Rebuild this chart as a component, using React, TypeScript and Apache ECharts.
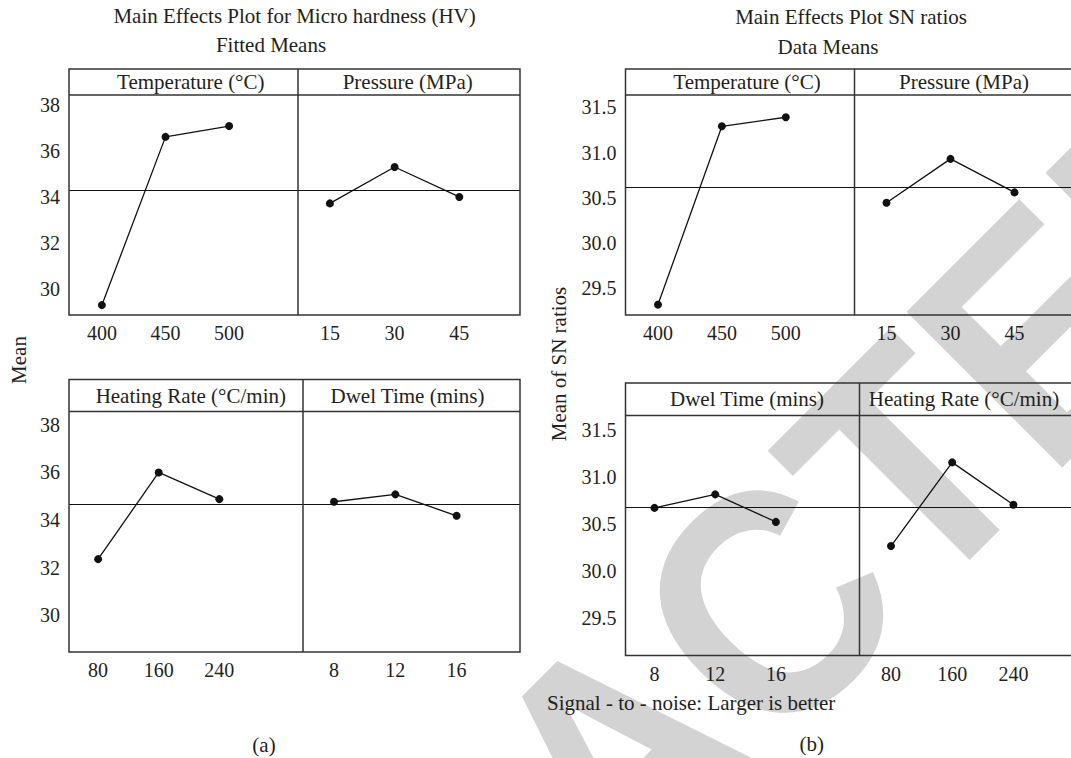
import React, { useEffect, useRef } from "react";
import * as echarts from "echarts";

// ---------------- Data ----------------
const titleA = "Main Effects Plot for Micro hardness (HV)";
const subtitleA = "Fitted Means";
const titleB = "Main Effects Plot SN ratios";
const subtitleB = "Data Means";
const yNameA = "Mean";
const yNameB = "Mean of SN ratios";
const noteB = "Signal - to - noise: Larger is better";
const captionA = "(a)";
const captionB = "(b)";
const watermark = "RETRACTED";

const factorTemp = "Temperature (°C)";
const factorPressure = "Pressure (MPa)";
const factorHeating = "Heating Rate (°C/min)";
const factorDwell = "Dwel Time (mins)";

const tempLevels = ["400", "450", "500"];
const pressureLevels = ["15", "30", "45"];
const heatingLevels = ["80", "160", "240"];
const dwellLevels = ["8", "12", "16"];

// (a) Micro hardness – fitted means
const hvTemperature = [29.29, 36.6, 37.07];
const hvPressure = [33.71, 35.29, 33.99];
const hvHeating = [32.36, 36.0, 34.88];
const hvDwell = [34.77, 35.08, 34.18];
const hvMeanTop = 34.29;
const hvMeanBottom = 34.68;
const hvTicks = [30, 32, 34, 36, 38];

// (b) SN ratios – data means
const snTemperature = [29.32, 31.29, 31.39];
const snPressure = [30.445, 30.93, 30.56];
const snDwell = [30.666, 30.81, 30.517];
const snHeating = [30.26, 31.15, 30.7];
const snMeanTop = 30.62;
const snMeanBottom = 30.666;
const snTicks = [29.5, 30.0, 30.5, 31.0, 31.5];

// ---------------- Layout / style ----------------
const FONT = '"Liberation Serif", "Times New Roman", serif';
const INK = "#231f20";
const LINE = "#111111";
const FRAME = "#333333";

interface Row {
  headerTop: number;
  headerBottom: number;
  bottom: number;
  left: number;
  mid: number;
  right: number;
}

const rowAT: Row = { headerTop: 69, headerBottom: 95, bottom: 315, left: 69, mid: 298, right: 520 };
const rowAB: Row = { headerTop: 379.5, headerBottom: 411.5, bottom: 652, left: 69, mid: 303, right: 520 };
const rowBT: Row = { headerTop: 69, headerBottom: 95, bottom: 315, left: 625.5, mid: 854.5, right: 1072 };
const rowBB: Row = { headerTop: 383, headerBottom: 415.5, bottom: 655.5, left: 625.5, mid: 859.5, right: 1072 };

interface Panel {
  row: Row;
  side: 0 | 1;
  name: string;
  nameX: number;
  levels: string[];
  values: number[];
  mean: number;
  ticks: number[];
  decimals: number;
  yMin: number;
  yMax: number;
  firstPx: number;
  stepPx: number;
}

const panels: Panel[] = [
  { row: rowAT, side: 0, name: factorTemp, nameX: 190.8, levels: tempLevels, values: hvTemperature, mean: hvMeanTop, ticks: hvTicks, decimals: 0, yMin: 28.86, yMax: 38.42, firstPx: 101.9, stepPx: 63.6 },
  { row: rowAT, side: 1, name: factorPressure, nameX: 407.7, levels: pressureLevels, values: hvPressure, mean: hvMeanTop, ticks: hvTicks, decimals: 0, yMin: 28.86, yMax: 38.42, firstPx: 329.9, stepPx: 64.7 },
  { row: rowAB, side: 0, name: factorHeating, nameX: 190.8, levels: heatingLevels, values: hvHeating, mean: hvMeanBottom, ticks: hvTicks, decimals: 0, yMin: 28.46, yMax: 38.56, firstPx: 98.1, stepPx: 60.6 },
  { row: rowAB, side: 1, name: factorDwell, nameX: 407.5, levels: dwellLevels, values: hvDwell, mean: hvMeanBottom, ticks: hvTicks, decimals: 0, yMin: 28.46, yMax: 38.56, firstPx: 334, stepPx: 61.3 },
  { row: rowBT, side: 0, name: factorTemp, nameX: 747, levels: tempLevels, values: snTemperature, mean: snMeanTop, ticks: snTicks, decimals: 1, yMin: 29.205, yMax: 31.636, firstPx: 658, stepPx: 63.9 },
  { row: rowBT, side: 1, name: factorPressure, nameX: 964, levels: pressureLevels, values: snPressure, mean: snMeanTop, ticks: snTicks, decimals: 1, yMin: 29.205, yMax: 31.636, firstPx: 886.5, stepPx: 64 },
  { row: rowBB, side: 0, name: factorDwell, nameX: 747, levels: dwellLevels, values: snDwell, mean: snMeanBottom, ticks: snTicks, decimals: 1, yMin: 29.096, yMax: 31.649, firstPx: 654.5, stepPx: 60.7 },
  { row: rowBB, side: 1, name: factorHeating, nameX: 964, levels: heatingLevels, values: snHeating, mean: snMeanBottom, ticks: snTicks, decimals: 1, yMin: 29.096, yMax: 31.649, firstPx: 891, stepPx: 61.2 },
];

function textEl(text: string, x: number, y: number, size: number, extra: any = {}) {
  return {
    type: "text",
    x,
    y,
    z: 10,
    silent: true,
    style: {
      text,
      fill: INK,
      font: `${size}px ${FONT}`,
      fontSize: size,
      fontFamily: FONT,
      align: extra.align || "center",
      verticalAlign: "middle",
      textAlign: extra.align || "center",
      textVerticalAlign: "middle",
    },
    rotation: extra.rotation || 0,
  };
}

function buildOption(): any {
  const grid: any[] = [];
  const xAxis: any[] = [];
  const yAxis: any[] = [];
  const series: any[] = [];
  const graphics: any[] = [];

  panels.forEach((p, i) => {
    const left = p.side === 0 ? p.row.left : p.row.mid;
    const right = p.side === 0 ? p.row.mid : p.row.right;
    grid.push({
      left,
      top: p.row.headerBottom,
      width: right - left,
      height: p.row.bottom - p.row.headerBottom,
      containLabel: false,
      outerBoundsMode: "none",
    });
    const xMin = 1 - (p.firstPx - left) / p.stepPx;
    const xMax = 1 + (right - p.firstPx) / p.stepPx;
    xAxis.push({
      type: "value",
      gridIndex: i,
      min: xMin,
      max: xMax,
      axisLine: { show: false },
      axisTick: { show: false },
      splitLine: { show: false },
      axisLabel: {
        customValues: [1, 2, 3],
        formatter: (v: number) => p.levels[Math.round(v) - 1] ?? "",
        margin: 8,
        fontSize: 20,
        fontFamily: FONT,
        color: INK,
      },
    });
    yAxis.push({
      type: "value",
      gridIndex: i,
      min: p.yMin,
      max: p.yMax,
      axisLine: { show: false },
      axisTick: { show: false },
      splitLine: { show: false },
      axisLabel: {
        show: p.side === 0,
        customValues: p.ticks,
        formatter: (v: number) => v.toFixed(p.decimals),
        margin: 9,
        fontSize: 20,
        fontFamily: FONT,
        color: INK,
      },
    });
    series.push({
      type: "line",
      xAxisIndex: i,
      yAxisIndex: i,
      data: p.values.map((v, k) => [k + 1, v]),
      symbol: "circle",
      symbolSize: 8,
      z: 5,
      itemStyle: { color: LINE },
      lineStyle: { color: LINE, width: 1.3 },
      markLine: {
        silent: true,
        symbol: ["none", "none"],
        label: { show: false },
        lineStyle: { color: LINE, width: 1.2, type: "solid" },
        data: [{ yAxis: p.mean }],
      },
    });
    graphics.push(textEl(p.name, p.nameX, (p.row.headerTop + p.row.headerBottom) / 2, 21));
  });

  [rowAT, rowAB, rowBT, rowBB].forEach((r) => {
    graphics.push({
      type: "rect",
      z: 8,
      silent: true,
      shape: { x: r.left, y: r.headerTop, width: r.right - r.left, height: r.bottom - r.headerTop },
      style: { fill: "none", stroke: FRAME, lineWidth: 1.5 },
    });
    graphics.push({
      type: "line",
      z: 8,
      silent: true,
      shape: { x1: r.left, y1: r.headerBottom, x2: r.right, y2: r.headerBottom },
      style: { stroke: FRAME, lineWidth: 1.5 },
    });
    graphics.push({
      type: "line",
      z: 8,
      silent: true,
      shape: { x1: r.mid, y1: r.headerTop, x2: r.mid, y2: r.bottom },
      style: { stroke: FRAME, lineWidth: 1.5 },
    });
  });

  graphics.push(textEl(titleA, 294.6, 16, 21));
  graphics.push(textEl(subtitleA, 271, 45, 21));
  graphics.push(textEl(titleB, 851, 16.5, 21));
  graphics.push(textEl(subtitleB, 828, 46.5, 21));
  graphics.push(textEl(yNameA, 18.5, 360, 21, { rotation: Math.PI / 2 }));
  graphics.push(textEl(yNameB, 558.5, 364, 21, { rotation: Math.PI / 2 }));
  graphics.push(textEl(noteB, 547, 703, 21, { align: "left" }));
  graphics.push(textEl(captionA, 264, 745, 21));
  graphics.push(textEl(captionB, 811.7, 743.5, 21));

  // diagonal watermark, behind everything
  graphics.push({
    type: "text",
    x: 617,
    y: 756,
    z: -100,
    silent: true,
    rotation: Math.PI / 4,
    scaleX: 0.921,
    style: {
      text: watermark,
      fill: "#d3d3d3",
      font: 'bold 320px "Liberation Sans", Arial, sans-serif',
      align: "center",
      verticalAlign: "middle",
      textAlign: "center",
      textVerticalAlign: "middle",
    },
  });

  return {
    animation: false,
    backgroundColor: "#ffffff",
    grid,
    xAxis,
    yAxis,
    series,
    graphic: { elements: graphics },
  };
}

export default function App() {
  const ref = useRef<HTMLDivElement>(null);
  useEffect(() => {
    document.body.style.margin = "0";
    if (!ref.current) return;
    const chart = echarts.init(ref.current, undefined, { renderer: "svg" });
    chart.setOption(buildOption());
    return () => chart.dispose();
  }, []);
  return (
    <div
      ref={ref}
      style={{ position: "absolute", left: 0, top: 0, width: 1071, height: 758 }}
    />
  );
}
